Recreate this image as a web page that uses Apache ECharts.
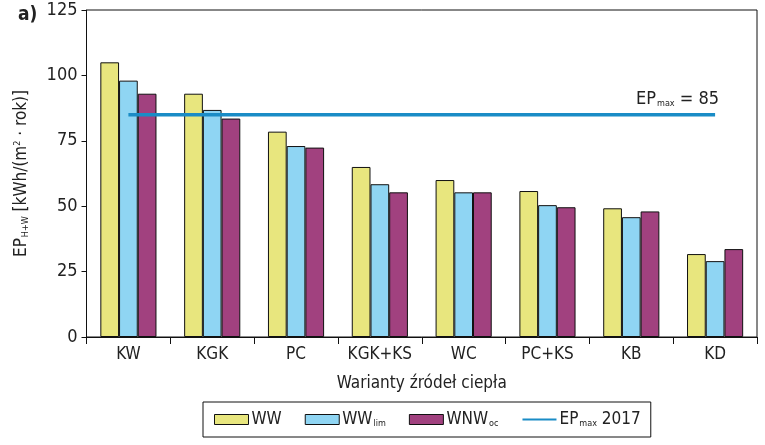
<!DOCTYPE html>
<html>
<head>
<meta charset="utf-8">
<script src="https://cdn.jsdelivr.net/npm/echarts@6/dist/echarts.min.js"></script>
<style>
  html, body { margin: 0; padding: 0; background: #fff; }
  #chart { width: 765px; height: 445px; }
</style>
</head>
<body>
<div id="chart"></div>
<script>
const categories = ["KW", "KGK", "PC", "KGK+KS", "WC", "PC+KS", "KB", "KD"];
const ww = [105, 93, 78.5, 65, 60, 55.8, 49.2, 31.7];
const wwLim = [98, 86.8, 73, 58.4, 55.3, 50.4, 45.8, 29];
const wnwOc = [93, 83.5, 72.4, 55.3, 55.3, 49.6, 48, 33.6];
const epMax = [85, 85, 85, 85, 85, 85, 85, 85];
const yTicks = [0, 25, 50, 75, 100, 125];

const FONT = '"DejaVu Sans Condensed", "Liberation Sans", sans-serif';
const colors = ["#e8e67e", "#8fd5f3", "#a1417f", "#1a8cc6"];

const chart = echarts.init(document.getElementById("chart"));

const richSub = {
  sub: { fontFamily: FONT, fontSize: 9, color: "#222", padding: [8, 0, 0, 1] },
  sup: { fontFamily: FONT, fontSize: 9, color: "#222", padding: [0, 0, 8, 0] }
};

chart.setOption({
  color: colors,
  textStyle: { fontFamily: FONT, color: "#222" },
  graphic: [{
    type: "text",
    left: 18,
    top: 6,
    style: { text: "a)", fontFamily: FONT, fontWeight: "bold", fontSize: 19, fill: "#222" }
  }],
  grid: {
    left: 86.5,
    right: 8,
    top: 10,
    bottom: 108,
    show: true,
    borderColor: "#111",
    borderWidth: 1
  },
  legend: {
    bottom: 8,
    left: 203,
    padding: [9, 10, 9, 11],
    borderColor: "#111",
    borderWidth: 1,
    borderRadius: 0,
    itemWidth: 34,
    itemHeight: 10,
    itemGap: 23,
    itemStyle: { borderWidth: 1, borderColor: "#111" },
    textStyle: {
      fontFamily: FONT,
      fontSize: 17,
      color: "#222",
      padding: [0, 0, 0, -2],
      rich: richSub
    },
    formatter: function (name) {
      if (name === "WW_lim") return "WW{sub|lim}";
      if (name === "WNW_oc") return "WNW{sub|oc}";
      if (name === "EP_max 2017") return "EP{sub|max} 2017";
      return name;
    },
    data: [
      { name: "WW", icon: "rect" },
      { name: "WW_lim", icon: "rect" },
      { name: "WNW_oc", icon: "rect" },
      { name: "EP_max 2017", itemStyle: { opacity: 0 } }
    ]
  },
  xAxis: {
    type: "category",
    data: categories,
    name: "Warianty źródeł ciepła",
    nameLocation: "middle",
    nameGap: 38,
    nameTextStyle: { fontFamily: FONT, fontSize: 17, color: "#222" },
    axisLine: { lineStyle: { color: "#111", width: 1 } },
    axisTick: { show: true, length: 7, lineStyle: { color: "#111" } },
    axisLabel: { fontFamily: FONT, fontSize: 17, color: "#222", margin: 9, interval: 0 }
  },
  yAxis: {
    type: "value",
    min: 0,
    max: 125,
    interval: 25,
    name: "EP{sub|H+W} [kWh/(m{sup|2} · rok)]",
    nameLocation: "middle",
    nameGap: 56,
    nameRotate: 90,
    nameTextStyle: { fontFamily: FONT, fontSize: 17, color: "#222", rich: richSub },
    axisLine: { show: true, lineStyle: { color: "#111", width: 1 } },
    axisTick: { show: true, length: 5, lineStyle: { color: "#111" } },
    splitLine: { show: false },
    axisLabel: {
      fontFamily: FONT, fontSize: 18, color: "#222", margin: 9,
      formatter: function (v) { return yTicks.indexOf(v) >= 0 ? String(v) : ""; }
    }
  },
  series: [
    {
      name: "WW", type: "bar", data: ww,
      barGap: "0%", barCategoryGap: "33%",
      itemStyle: { color: colors[0], borderColor: "#111", borderWidth: 1 }
    },
    {
      name: "WW_lim", type: "bar", data: wwLim,
      barGap: "0%", barCategoryGap: "33%",
      itemStyle: { color: colors[1], borderColor: "#111", borderWidth: 1 }
    },
    {
      name: "WNW_oc", type: "bar", data: wnwOc,
      barGap: "0%", barCategoryGap: "33%",
      itemStyle: { color: colors[2], borderColor: "#111", borderWidth: 1 }
    },
    {
      name: "EP_max 2017", type: "line", data: epMax,
      symbol: "none", showSymbol: false,
      lineStyle: { color: colors[3], width: 3.5 },
      itemStyle: { color: colors[3] },
      z: 5,
      endLabel: {
        show: true,
        align: "right",
        verticalAlign: "bottom",
        offset: [-4, -6],
        fontFamily: FONT,
        fontSize: 18,
        color: "#222",
        rich: richSub,
        formatter: function (p) { return "EP{sub|max} = " + p.value; }
      }
    }
  ]
});
</script>
</body>
</html>
